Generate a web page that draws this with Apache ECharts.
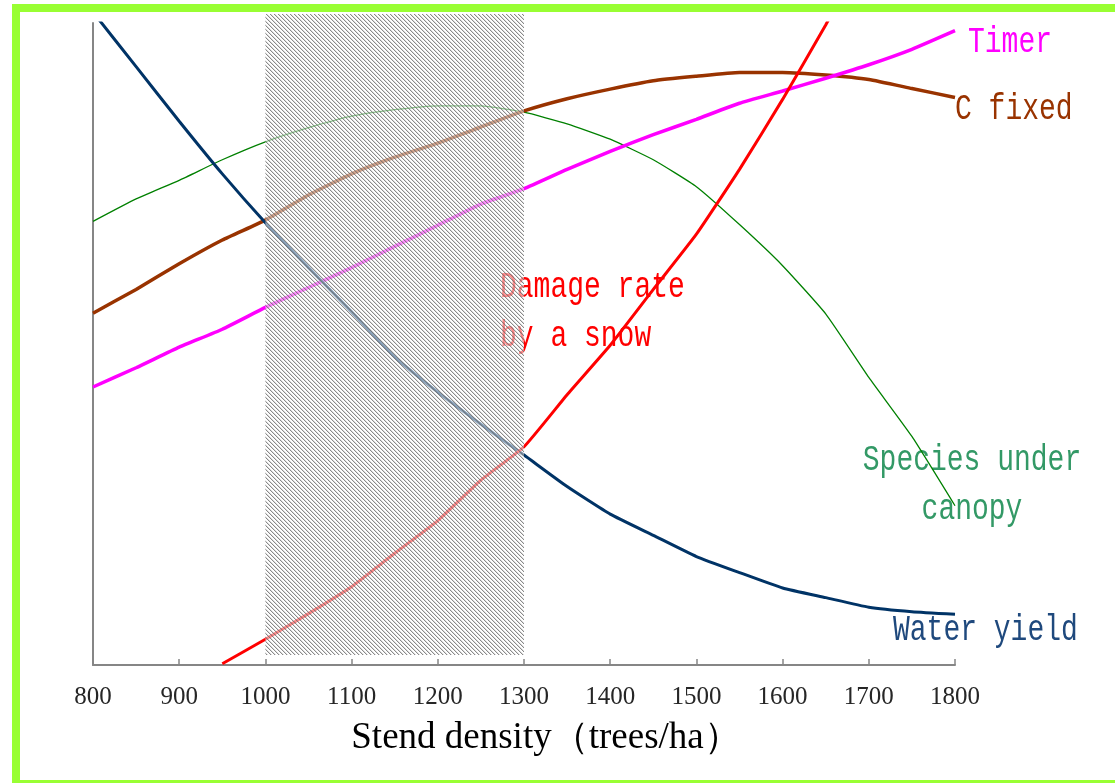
<!DOCTYPE html>
<html>
<head>
<meta charset="utf-8">
<script src="https://cdn.jsdelivr.net/npm/echarts@6/dist/echarts.min.js"></script>
<style>
  html, body { margin: 0; padding: 0; background: #fff; }
  #main { width: 1115px; height: 783px; }
</style>
</head>
<body>
<div id="main"></div>
<script>
// stand density (trees/ha), every 50
var density = [800, 850, 900, 950, 1000, 1050, 1100, 1150, 1200, 1250, 1300,
               1350, 1400, 1450, 1500, 1550, 1600, 1650, 1700, 1750, 1800];

// relative values (0-100 scale, no y labels in original)
var waterYield = [101.7, 93.2, 84.7, 76.5, 68.9, 61.9, 55.0, 48.0, 42.5, 37.5, 32.7,
                  27.8, 23.5, 20.2, 16.9, 14.4, 12.0, 10.5, 9.0, 8.3, 7.9];
var snowDamage = [null, null, null, 0.2, 4.0, 8.0, 12.2, 17.4, 22.5, 28.8, 34.0,
                  42.1, 49.8, 58.5, 67.1, 77.2, 88.1, 99.7, 112, null, null];
var cFixed     = [54.8, 58.5, 62.5, 66.2, 69.3, 73.2, 76.5, 79.1, 81.3, 83.8, 86.3,
                  88.2, 89.7, 91.0, 91.7, 92.3, 92.3, 91.9, 91.2, 89.8, 88.4];
var timber     = [43.3, 46.3, 49.5, 52.3, 55.7, 58.8, 61.9, 65.2, 68.5, 71.8, 74.2,
                  77.2, 80.0, 82.6, 85.0, 87.5, 89.4, 91.4, 93.5, 95.9, 98.8];
var species    = [69.1, 72.6, 75.5, 78.7, 81.5, 83.7, 85.5, 86.5, 87.1, 87.1, 86.1,
                  84.3, 81.9, 78.7, 74.5, 68.6, 62.2, 54.7, 44.8, 35.6, 24.8];

// recommended density band
var shadeRange = [1000, 1300];

function pairs(vals) {
  return density.map(function (d, i) { return [d, vals[i]]; });
}

function hatchPattern() {
  var c = document.createElement('canvas');
  c.width = 4; c.height = 4;
  var ctx = c.getContext('2d');
  for (var y = 0; y < 4; y++) {
    for (var x = 0; x < 4; x++) {
      var d = ((x - y) % 4 + 4) % 4;
      if (d === 0) ctx.fillStyle = 'rgba(125,125,125,0.9)';
      else if (d === 1) ctx.fillStyle = 'rgba(200,200,200,0.6)';
      else ctx.fillStyle = 'rgba(255,255,255,0.55)';
      ctx.fillRect(x, y, 1, 1);
    }
  }
  return c;
}

function curve(name, vals, color, width) {
  return {
    name: name,
    type: 'line',
    data: pairs(vals),
    symbol: 'none',
    smooth: 0.15,
    z: 2,
    lineStyle: { color: color, width: width }
  };
}

function tag(text, x, y, color, align) {
  return {
    type: 'text', x: x, y: y, scaleY: 1.35, silent: true,
    style: {
      text: text, fill: color, font: '28px "Liberation Mono"',
      align: align || 'left', verticalAlign: 'middle'
    }
  };
}

var myChart = echarts.init(document.getElementById('main'));

var option = {
  backgroundColor: '#fff',
  animation: false,
  grid: [
    { left: 93, right: 160, top: 23, bottom: 118 },
    { left: 93, right: 160, top: 14, bottom: 128 }
  ],
  xAxis: [{
    type: 'value', min: 800, max: 1800, interval: 100,
    name: 'Stend density（trees/ha）',
    nameLocation: 'middle', nameGap: 55,
    nameTextStyle: { fontFamily: 'Liberation Serif', fontSize: 37, color: '#000', padding: [0, 0, 0, 44] },
    axisLine: { lineStyle: { color: '#868686', width: 2 } },
    axisTick: { inside: true, length: 6, lineStyle: { color: '#868686', width: 1.5 } },
    axisLabel: {
      fontFamily: 'Liberation Serif', fontSize: 25, color: '#262626', margin: 20,
      formatter: function (v) { return String(v); }
    },
    splitLine: { show: false }
  }, {
    gridIndex: 1, type: 'value', min: 800, max: 1800, show: false
  }],
  yAxis: [{
    type: 'value', min: 0, max: 100,
    axisLine: { show: true, lineStyle: { color: '#868686', width: 2 } },
    axisTick: { show: false },
    axisLabel: { show: false },
    splitLine: { show: false }
  }, {
    gridIndex: 1, type: 'value', min: 0, max: 1, show: false
  }],
  series: [
    curve('Species under canopy', species, '#008000', 1.3),
    curve('C fixed', cFixed, '#993300', 3.5),
    curve('Timer', timber, '#ff00ff', 3.5),
    curve('Water yield', waterYield, '#003366', 3),
    curve('Damage rate by a snow', snowDamage, '#ff0000', 3),
    {
      name: 'band',
      type: 'line',
      xAxisIndex: 1, yAxisIndex: 1,
      data: [[shadeRange[0], 0], [shadeRange[1], 0]],
      symbol: 'none',
      lineStyle: { opacity: 0 },
      z: 10,
      markArea: {
        silent: true,
        z: 10,
        itemStyle: { color: { image: hatchPattern(), repeat: 'repeat' } },
        data: [[{ xAxis: shadeRange[0], yAxis: 0 }, { xAxis: shadeRange[1], yAxis: 1 }]]
      }
    }
  ],
  graphic: [
    {
      type: 'rect', silent: true, z: 100,
      shape: { x: 16, y: 8, width: 1115, height: 776 },
      style: { fill: 'none', stroke: '#99ff33', lineWidth: 8 }
    },
    tag('Timer', 968, 42, '#ff00ff'),
    tag('C fixed', 955, 109, '#993300'),
    tag('Damage rate', 500, 287, '#ff0000'),
    tag('by a snow', 500, 336, '#ff0000'),
    tag('Species under', 972, 460, '#339966', 'center'),
    tag('canopy', 972, 509, '#339966', 'center'),
    tag('Water yield', 893, 630, '#1f497d')
  ]
};

myChart.setOption(option);
</script>
</body>
</html>
